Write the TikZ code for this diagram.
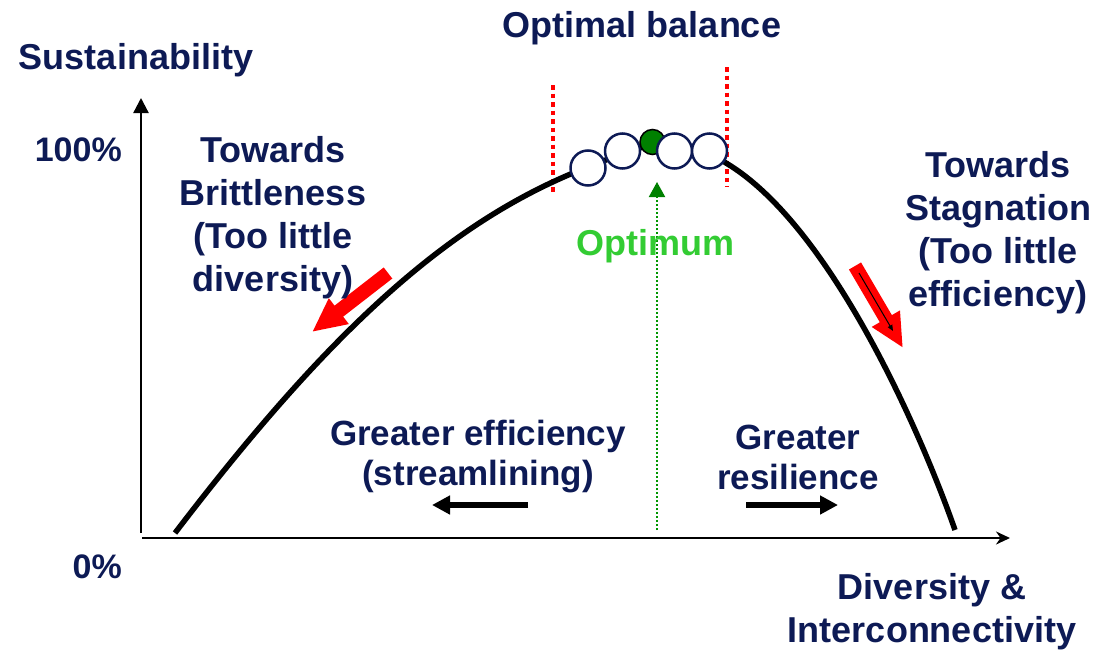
\documentclass[tikz,border=0pt]{standalone}
\usepackage{fontspec}
\setmainfont{Liberation Sans}
\usetikzlibrary{arrows.meta}
\definecolor{navy}{RGB}{13,26,85}
\definecolor{optgreen}{RGB}{51,204,51}
\definecolor{dkgreen}{RGB}{0,128,0}
\definecolor{dotgreen}{RGB}{0,150,0}
\begin{document}
\begin{tikzpicture}[x=1pt,y=-1pt,
  lbl/.style={text=navy,font=\bfseries\fontsize{36}{43}\selectfont,align=center,inner sep=0pt},
  lbls/.style={text=navy,font=\bfseries\fontsize{35}{40}\selectfont,align=center,inner sep=0pt},
  pct/.style={text=navy,font=\bfseries\fontsize{34}{40}\selectfont,inner sep=0pt,anchor=east},
  axis/.style={line width=2.3pt,black},
  curve/.style={line width=5.5pt,black,line cap=butt},
  circ/.style={circle,draw=navy,line width=2.5pt,fill=white,minimum size=35pt,inner sep=0pt},
  gcirc/.style={circle,draw=black,line width=1.5pt,fill=dkgreen,minimum size=25pt,inner sep=0pt},
  redbar/.style={red,line width=4.5pt,dash pattern=on 4.5pt off 4pt},
  redarrow/.style={red,line width=14pt,-{Triangle[length=34pt,width=30pt]}},
  blkarrow/.style={black,line width=6.5pt,-{Triangle[length=18pt,width=18pt]}}
]
\useasboundingbox (0,0) rectangle (1110,653);

% axes
\coordinate (yb) at (141,533);
\coordinate (yt) at (141,98);
\coordinate (xl) at (142,538);
\coordinate (xr) at (1010,538);
\draw[axis,-{Triangle[length=15pt,width=15pt]}] (yb) -- (yt);
\draw[axis,-{Stealth[length=14pt,width=13pt]}] (xl) -- (xr);

% red dotted limits
\coordinate (lt) at (553,85);
\coordinate (lb) at (553,193);
\coordinate (rt) at (727,67);
\coordinate (rb) at (727,187);
\draw[redbar] (lt) -- (lb);
\draw[redbar] (rt) -- (rb);

% curve
\coordinate (k0) at (175,533);
\coordinate (k1) at (588,167);
\coordinate (k2) at (655,146);
\coordinate (k3) at (726,163);
\coordinate (k4) at (955,530);
\draw[curve] (k0) .. controls (330,330) and (450,220) .. (k1)
  .. controls (615,157) and (635,146) .. (k2)
  .. controls (685,146) and (710,152) .. (k3)
  .. controls (830,225) and (920,430) .. (k4);

% green optimum line
\coordinate (gb) at (657,530);
\coordinate (gt) at (657,182);
\draw[dotgreen,line width=2pt,dash pattern=on 2pt off 2pt,-{Triangle[length=15pt,width=16pt,fill=dkgreen,color=dkgreen]}] (gb) -- (gt);

% circles
\node[circ] (c1) at (588,168) {};
\node[circ] (c2) at (622.5,151) {};
\node[gcirc] (cg) at (652.5,142) {};
\node[circ] (c4) at (674.5,151) {};
\node[circ] (c5) at (709.5,151) {};

% red arrows
\coordinate (la1) at (388,273);
\coordinate (la2) at (312,332);
\draw[redarrow] (la1) -- (la2);
\coordinate (ra1) at (855,266);
\coordinate (ra2) at (903,348);
\draw[redarrow] (ra1) -- (ra2);
\coordinate (ta1) at (859,273);
\coordinate (ta2) at (893,331);
\draw[black,line width=1pt,-{Triangle[length=6pt,width=5pt]}] (ta1) -- (ta2);

% black arrows
\coordinate (ba1) at (528,505);
\coordinate (ba2) at (432,505);
\draw[blkarrow] (ba1) -- (ba2);
\coordinate (bb1) at (746,505);
\coordinate (bb2) at (838,505);
\draw[blkarrow] (bb1) -- (bb2);

% labels
\node[lbl] (sust) at (136,60) {Sustainability};
\node[lbl] (optbal) at (642,28) {Optimal balance};
\node[pct] (p100) at (122,150) {100\%};
\node[pct] (p0) at (122,567) {0\%};
\node[lbl] (brittle) at (273,218) {Towards\\Brittleness\\(Too little\\diversity)};
\node[lbl] (stag) at (998,233) {Towards\\Stagnation\\(Too little\\efficiency)};
\node[lbl,text=optgreen] (optimum) at (655,246) {Optimum};
\node[lbls] (eff) at (478,457) {Greater efficiency\\(streamlining)};
\node[lbls] (resil) at (798,457) {Greater\\resilience};
\node[lbl] (divers) at (932,612) {Diversity \&\\Interconnectivity};
\end{tikzpicture}
\end{document}
